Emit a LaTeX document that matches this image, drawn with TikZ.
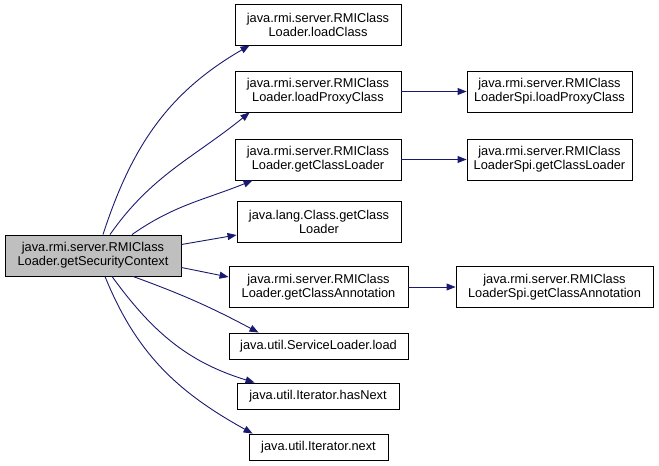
\documentclass[tikz,border=0pt]{standalone}
\usepackage{fontspec}
\setmainfont{Liberation Sans}
\usetikzlibrary{arrows.meta,positioning,calc}
\definecolor{cgedge}{HTML}{191970}
\definecolor{cgroot}{HTML}{BFBFBF}

\begin{document}
\begin{tikzpicture}[x=1pt,y=-1pt,>={Triangle[length=9pt,width=7pt]},
  fn/.style={rectangle, draw=black, fill=white, line width=0.9pt, align=center,
    font=\fontsize{12.8}{14}\selectfont, inner sep=0pt, minimum height=41pt},
  fnone/.style={fn, minimum height=26pt},
  call/.style={->, draw=cgedge, line width=0.9pt}]
\useasboundingbox (0,0) rectangle (659,466);
% caller
\node[fn, fill=cgroot, minimum width=176pt] (root) at (93,255.5)
  {java.rmi.server.RMIClass\\Loader.getSecurityContext};
% callees
\node[fn, minimum width=166pt] (loadcls) at (318,24.5)
  {java.rmi.server.RMIClass\\Loader.loadClass};
\node[fn, minimum width=166pt] (loadproxy) at (318,91.5)
  {java.rmi.server.RMIClass\\Loader.loadProxyClass};
\node[fn, minimum width=166pt] (getcl) at (318,159.5)
  {java.rmi.server.RMIClass\\Loader.getClassLoader};
\node[fn, minimum width=164pt] (langcl) at (319,222)
  {java.lang.Class.getClass\\Loader};
\node[fn, minimum width=179pt] (getann) at (318.5,287)
  {java.rmi.server.RMIClass\\Loader.getClassAnnotation};
\node[fnone, minimum width=179pt] (svcload) at (318.5,346)
  {java.util.ServiceLoader.load};
\node[fnone, minimum width=162pt] (hasnext) at (318,396)
  {java.util.Iterator.hasNext};
\node[fnone, minimum width=139pt] (itnext) at (318.5,447)
  {java.util.Iterator.next};
% spi
\node[fn, minimum width=165pt] (spiproxy) at (549.5,91.5)
  {java.rmi.server.RMIClass\\LoaderSpi.loadProxyClass};
\node[fn, minimum width=165pt] (spicl) at (549.5,159.5)
  {java.rmi.server.RMIClass\\LoaderSpi.getClassLoader};
\node[fn, minimum width=197pt] (spiann) at (554.5,287)
  {java.rmi.server.RMIClass\\LoaderSpi.getClassAnnotation};

% calls
\draw[call] ([xshift=10pt]root.north) to[out=72,in=210] ([xshift=15pt]loadcls.south west);
\draw[call] ([xshift=17pt]root.north) to[out=55,in=219] ([xshift=15pt]loadproxy.south west);
\draw[call] ([xshift=39pt]root.north) to[out=35,in=202] ([xshift=18pt]getcl.south west);
\draw[call] ([yshift=11pt]root.east) -- ([yshift=-13pt]langcl.west);
\draw[call] ([yshift=-12pt]root.east) -- ([yshift=10pt]getann.west);
\draw[call] ([xshift=40pt]root.south) to[out=-20,in=152] ([xshift=30pt]svcload.north west);
\draw[call] ([xshift=19pt]root.south) to[out=-54,in=163] ([xshift=18pt]hasnext.north west);
\draw[call] ([xshift=12pt]root.south) to[out=-68,in=151] ([xshift=4pt]itnext.north west);
\draw[call] (loadproxy) -- (spiproxy);
\draw[call] (getcl) -- (spicl);
\draw[call] (getann) -- (spiann);
\end{tikzpicture}
\end{document}
